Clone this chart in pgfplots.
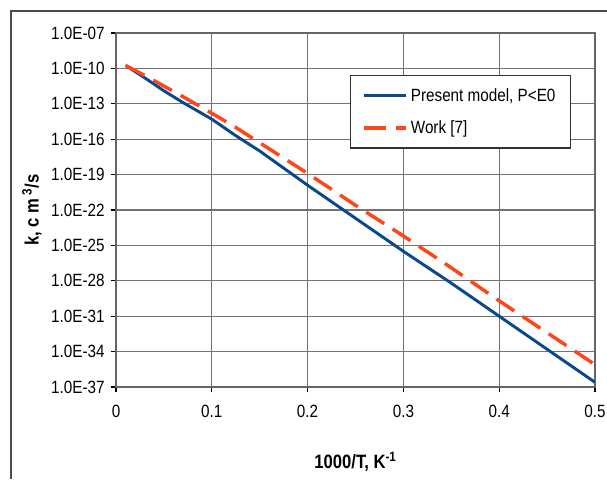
\documentclass[border=0pt]{standalone}
\usepackage{fontspec}
\setmainfont{Liberation Sans}
\newfontfamily\narrowfont{Liberation Sans}[FakeStretch=0.86]
\usepackage{pgfplots}
\pgfplotsset{compat=1.18}

\definecolor{modelblue}{RGB}{10,72,140}
\definecolor{workred}{RGB}{255,70,25}

\begin{document}
\begin{tikzpicture}
\begin{axis}[
    at={(0,0)}, anchor=south west,
    scale only axis,
    width=359.25pt, height=265.5pt,
    xmin=0, xmax=0.5,
    ymode=log, log basis y=10,
    ymin=1e-37, ymax=1e-7,
    xtick={0,0.1,0.2,0.3,0.4,0.5},
    xticklabels={0,0.1,0.2,0.3,0.4,0.5},
    ytick={1e-37,1e-34,1e-31,1e-28,1e-25,1e-22,1e-19,1e-16,1e-13,1e-10,1e-7},
    yticklabels={1.0E-37,1.0E-34,1.0E-31,1.0E-28,1.0E-25,1.0E-22,1.0E-19,1.0E-16,1.0E-13,1.0E-10,1.0E-07},
    yminorticks=false,
    grid=major,
    major grid style={black!55, line width=0.8pt},
    axis line style={black!60, line width=0.8pt},
    tick align=outside,
    xtick pos=left, ytick pos=left,
    major tick length=4pt,
    tick style={black, line width=0.8pt},
    ticklabel style={font=\narrowfont\fontsize{13.3}{15}\selectfont},
    yticklabel style={xshift=-1pt},
    xticklabel style={yshift=-6pt},
    xlabel={\narrowfont\fontsize{14.5}{16}\selectfont\bfseries 1000/T, K\textsuperscript{-1}},
    ylabel={\narrowfont\fontsize{14.5}{16}\selectfont\bfseries k, c m\,\textsuperscript{3}/s},
    every axis x label/.style={at={(axis description cs:0.5,0)}, yshift=-56pt, anchor=center},
    every axis y label/.style={at={(axis description cs:0,0.5)}, xshift=-63pt, rotate=90, anchor=center},
    legend style={at={(0.489,0.881)}, anchor=north west, draw=black!80, line width=0.8pt,
        font=\narrowfont\fontsize{13.3}{15}\selectfont, inner xsep=9pt, inner ysep=7.5pt,
        row sep=9pt, cells={anchor=west}},
    legend image code/.code={\draw[#1] (0pt,0pt) -- (31.5pt,0pt);},
]
\addplot[modelblue, line width=2.2pt] coordinates {
    (0.01, 1.78e-10)
    (0.03, 1.58e-11)
    (0.05, 1.26e-12)
    (0.07, 1.26e-13)
    (0.10, 5.01e-15)
    (0.125, 2.00e-16)
    (0.15, 1.00e-17)
    (0.20, 1.26e-20)
    (0.25, 2.00e-23)
    (0.30, 3.16e-26)
    (0.35, 6.31e-29)
    (0.40, 1.00e-31)
    (0.45, 1.58e-34)
    (0.50, 2.51e-37)
};
\addlegendentry{Present model, P<E0}
\addplot[workred, line width=2.6pt, dash pattern=on 16pt off 7.5pt] coordinates {
    (0.01, 1.78e-10)
    (0.03, 2.51e-11)
    (0.05, 3.16e-12)
    (0.07, 3.98e-13)
    (0.10, 1.58e-14)
    (0.125, 1.00e-15)
    (0.15, 5.01e-17)
    (0.20, 1.26e-19)
    (0.25, 2.51e-22)
    (0.30, 6.31e-25)
    (0.35, 1.26e-27)
    (0.40, 2.00e-30)
    (0.45, 3.98e-33)
    (0.50, 7.94e-36)
};
\addlegendentry{Work [7]}
\end{axis}
\pgfresetboundingbox
\useasboundingbox (-87pt,-69pt) rectangle (368.25pt,290.25pt);
\draw[black!70, line width=1.5pt] (-78.75pt,-69pt) -- (-78.75pt,282pt) -- (368.25pt,282pt);
\end{tikzpicture}
\end{document}
